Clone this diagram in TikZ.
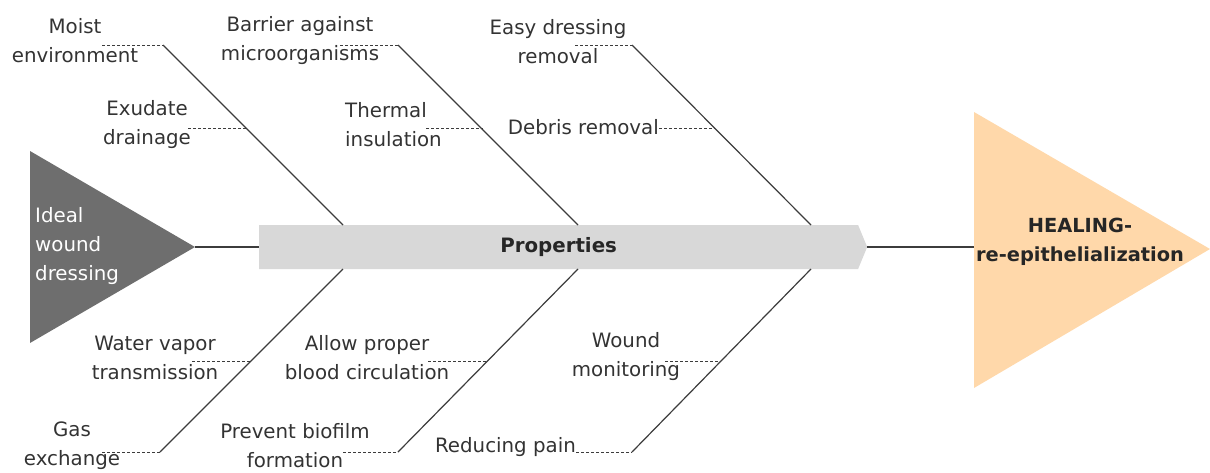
\documentclass[tikz,border=0pt]{standalone}
\usepackage{fontspec}
\setmainfont{DejaVu Sans}
\usetikzlibrary{shapes.symbols}
\definecolor{inkgray}{HTML}{333333}
\definecolor{linegray}{HTML}{3C3C3C}
\definecolor{headgray}{HTML}{6E6E6E}
\definecolor{boxgray}{HTML}{D8D8D8}
\definecolor{peach}{HTML}{FFD8AA}
\tikzstyle{lbl} = [text=inkgray, align=center, inner sep=0pt, font=\fontsize{19.8}{29}\selectfont]
\tikzstyle{bone} = [draw=linegray, line width=1.2pt]
\tikzstyle{tick} = [draw=linegray, line width=0.9pt, dash pattern=on 3pt off 2pt]
\tikzstyle{spine} = [signal, signal to=east, signal pointer angle=135, fill=boxgray, minimum width=608pt, minimum height=44pt, inner sep=0pt, text=black!85, font=\bfseries\fontsize{19.8}{29}\selectfont]

\begin{document}
\begin{tikzpicture}[x=1pt, y=-1pt]
		\useasboundingbox (0,0) rectangle (1210,472);
		% head and tail
		\fill[headgray] (30,151) -- (195,247) coordinate (tail) -- (30,343) -- cycle;
		\fill[peach] (974,112) -- (1210,249) -- (974,388) -- cycle;
		\coordinate (head) at (974,247);
		\node (ideal) [lbl, text=white, align=left, anchor=west] at (35,246) {Ideal\\wound\\dressing};
		\node (healing) [lbl, text=black!85, font=\bfseries\fontsize{19.4}{29}\selectfont] at (1080,242) {HEALING-\\re-epithelialization};
		\node (props) [spine, anchor=west] at (259,247) {Properties};
		\draw [bone] (tail) -- (props.west);
		\draw [bone] (props.east) -- (head);
		% upper bones
		\coordinate (u1) at (163,45);  \coordinate (s1) at (343,225);
		\coordinate (u2) at (398,45);  \coordinate (s2) at (578,225);
		\coordinate (u3) at (632,45);  \coordinate (s3) at (811,225);
		\draw [bone] (u1) -- (s1);
		\draw [bone] (u2) -- (s2);
		\draw [bone] (u3) -- (s3);
		% lower bones
		\coordinate (l1) at (160,452); \coordinate (t1) at (343,269);
		\coordinate (l2) at (398,452); \coordinate (t2) at (578,269);
		\coordinate (l3) at (632,452); \coordinate (t3) at (811,269);
		\draw [bone] (t1) -- (l1);
		\draw [bone] (t2) -- (l2);
		\draw [bone] (t3) -- (l3);
		% upper labels
		\node (moist) [lbl] at (75,41) {Moist\\environment};
		\coordinate (moistd) at (102,45);
		\draw [tick] (moistd) -- (u1);
		\node (exudate) [lbl] at (147,125) {Exudate\\drainage};
		\coordinate (exudated) at (188,128); \coordinate (j1) at (247,128);
		\draw [tick] (exudated) -- (j1);
		\node (barrier) [lbl] at (300,41) {Barrier against\\microorganisms};
		\coordinate (barrierd) at (340,45);
		\draw [tick] (barrierd) -- (u2);
		\node (thermal) [lbl, align=left, anchor=west] at (345,125) {Thermal\\insulation};
		\coordinate (thermald) at (426,128); \coordinate (j2) at (483,128);
		\draw [tick] (thermald) -- (j2);
		\node (easy) [lbl] at (558,42) {Easy dressing\\removal};
		\coordinate (easyd) at (575,45);
		\draw [tick] (easyd) -- (u3);
		\node (debris) [lbl, anchor=east] at (659,127) {Debris removal};
		\coordinate (j3) at (715,128);
		\draw [tick] (debris.east |- j3) -- (j3);
		% lower labels
		\node (vapor) [lbl] at (155,358) {Water vapor\\transmission};
		\coordinate (vapord) at (192,361); \coordinate (k1) at (250,361);
		\draw [tick] (vapord) -- (k1);
		\node (gas) [lbl] at (72,446) {Gas\\exchange};
		\coordinate (gasd) at (102,452);
		\draw [tick] (gasd) -- (l1);
		\node (blood) [lbl] at (367,358) {Allow proper\\blood circulation};
		\coordinate (bloodd) at (428,361); \coordinate (k2) at (487,361);
		\draw [tick] (bloodd) -- (k2);
		\node (biofilm) [lbl] at (295,446) {Prevent biofilm\\formation};
		\coordinate (biofilmd) at (343,452);
		\draw [tick] (biofilmd) -- (l2);
		\node (monitor) [lbl] at (626,357) {Wound\\monitoring};
		\coordinate (monitord) at (665,361); \coordinate (k3) at (720,361);
		\draw [tick] (monitord) -- (k3);
		\node (pain) [lbl, anchor=east] at (576,447) {Reducing pain};
		\draw [tick] (pain.east |- l3) -- (l3);
\end{tikzpicture}
\end{document}
